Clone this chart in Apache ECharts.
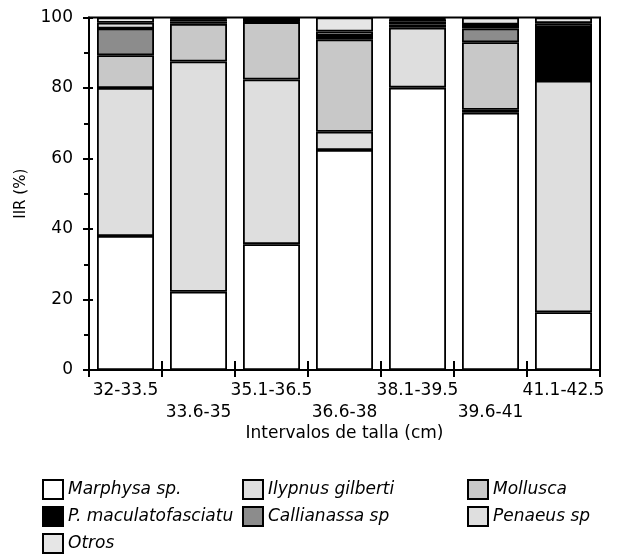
<!DOCTYPE html>
<html>
<head>
<meta charset="utf-8">
<script src="https://cdn.jsdelivr.net/npm/echarts@6/dist/echarts.min.js"></script>
<style>html,body{margin:0;padding:0;background:#fff;}#c{width:620px;height:556px;}</style>
</head>
<body>
<div id="c"></div>
<script>
var categories = ['32-33.5','33.6-35','35.1-36.5','36.6-38','38.1-39.5','39.6-41','41.1-42.5'];
var marphysa    = [38.0, 22.2, 35.7, 62.4, 80.1, 73.0, 16.4];
var ilypnus     = [42.0, 65.3, 46.7,  5.2, 17.0,  0.8, 65.7];
var mollusca    = [ 9.3, 10.7, 16.3, 26.2,  0.9, 19.2,  0];
var callianassa = [ 7.6,  0.7,  0.1,  1.0,  0.8,  3.9,  0];
var pmac        = [ 0,    0.6,  1.0,  0,    0.6,  1.1, 15.2];
var penaeus     = [ 1.6,  0.2,  0,    1.2,  0.2,  0,    1.1];
var otros       = [ 1.5,  0.3,  0.2,  4.0,  0.4,  2.0,  1.6];
var yTicks = [0, 20, 40, 60, 80, 100];

var FONT = 'DejaVu Sans';
var LW = 1.8;
function mk(name, data, color) {
  return {
    name: name, type: 'bar', stack: 'iir', data: data, barWidth: 57,
    itemStyle: { color: color, borderColor: '#000', borderWidth: LW },
    emphasis: { disabled: true }
  };
}
var series = [
  mk('Marphysa sp.', marphysa, '#ffffff'),
  mk('Ilypnus gilberti', ilypnus, '#dedede'),
  mk('Mollusca', mollusca, '#c8c8c8'),
  mk('Callianassa sp', callianassa, '#8c8c8c'),
  mk('P. maculatofasciatus', pmac, '#000000'),
  mk('Penaeus sp', penaeus, '#dfdfdf'),
  mk('Otros', otros, '#e6e6e6')
];
var legendText = { fontFamily: FONT, fontStyle: 'italic', fontSize: 17, color: '#000' };
function lg(left, names, extra, z) {
  return {
    orient: 'vertical', left: left, top: 479, height: 77, padding: 0,
    itemWidth: 20, itemHeight: 19, itemGap: 6,
    icon: 'rect', data: names, selectedMode: false, z: z,
    textStyle: Object.assign({}, legendText, extra || {})
  };
}
var chart = echarts.init(document.getElementById('c'), null, { renderer: 'canvas' });
chart.setOption({
  animation: false,
  backgroundColor: '#fff',
  grid: { left: 89, right: 20, top: 17.5, bottom: 186, show: true, borderColor: '#000', borderWidth: 2, backgroundColor: 'transparent' },
  legend: [
    lg(42, ['Marphysa sp.', 'P. maculatofasciatus', 'Otros'], { width: 172, overflow: 'truncate', ellipsis: '' }, 3),
    lg(242, ['Ilypnus gilberti', 'Callianassa sp'], null, 5),
    lg(467, ['Mollusca', 'Penaeus sp'], null, 5)
  ],
  xAxis: [{
    type: 'category', data: categories, position: 'bottom',
    axisLine: { lineStyle: { color: '#000', width: 2 } },
    axisTick: { show: true, length: 7, lineStyle: { color: '#000', width: 2 } },
    axisLabel: {
      color: '#000', fontFamily: FONT, fontSize: 17, margin: 10, lineHeight: 21.5, interval: 0,
      formatter: function (v, i) { return i % 2 ? '\n' + v : v; }
    },
    name: 'Intervalos de talla (cm)', nameLocation: 'middle', nameGap: 55, nameMoveOverlap: false,
    nameTextStyle: { color: '#000', fontFamily: FONT, fontSize: 17 }
  }, {
    type: 'category', data: categories, position: 'bottom', offset: 0,
    axisLine: { show: false },
    axisTick: { show: true, inside: true, length: 9, lineStyle: { color: '#000', width: 2 } },
    axisLabel: { show: false }
  }],
  yAxis: [{
    type: 'value', min: 0, max: 100, interval: 20,
    axisLine: { show: true, lineStyle: { color: '#000', width: 2 } },
    axisTick: { show: true, length: 6, lineStyle: { color: '#000', width: 2 } },
    minorTick: { show: true, splitNumber: 2, length: 5, lineStyle: { color: '#000', width: 2 } },
    splitLine: { show: false },
    axisLabel: {
      color: '#000', fontFamily: FONT, fontSize: 17, margin: 16,
      formatter: function (v) { return yTicks.indexOf(v) >= 0 ? String(v) : ''; }
    },
    name: 'IIR (%)', nameLocation: 'middle', nameGap: 60, nameMoveOverlap: false,
    nameTextStyle: { color: '#000', fontFamily: FONT, fontSize: 15 }
  }, {
    type: 'value', min: 0, max: 100, interval: 20, position: 'left', offset: 0,
    axisLine: { show: false },
    axisTick: { show: true, inside: true, length: 4, lineStyle: { color: '#000', width: 2 } },
    splitLine: { show: false },
    axisLabel: { show: false }
  }],
  series: series
});
</script>
</body>
</html>
